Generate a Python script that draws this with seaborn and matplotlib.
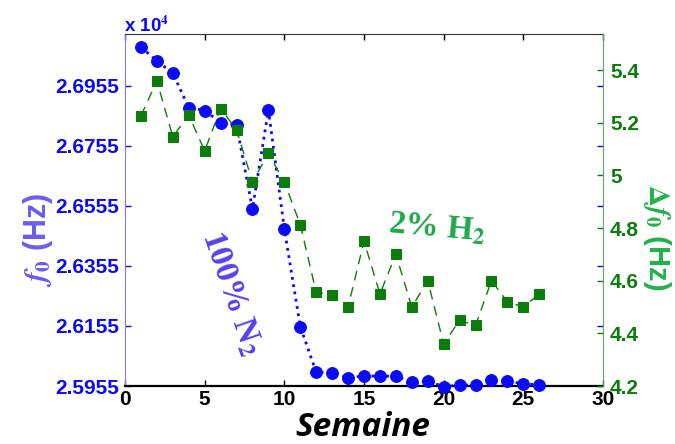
import matplotlib
matplotlib.use("Agg")
import matplotlib.pyplot as plt
import seaborn as sns
import pandas as pd
import numpy as np

# ---- data ----
semaine = list(range(1, 27))
f0_hz = [27084, 27039, 26997, 26883, 26873, 26833, 26825, 26545, 26875, 26479,
         26153, 26001, 25999, 25983, 25988, 25988, 25988, 25968, 25971, 25953,
         25958, 25958, 25975, 25972, 25962, 25959]
delta_f0 = [5.226, 5.359, 5.147, 5.229, 5.093, 5.254, 5.173, 4.975, 5.084, 4.975,
            4.813, 4.556, 4.547, 4.50, 4.75, 4.55, 4.70, 4.50, 4.60, 4.36,
            4.45, 4.43, 4.60, 4.52, 4.50, 4.55]
left_ticks = [25955, 26155, 26355, 26555, 26755, 26955]
right_ticks = [4.2, 4.4, 4.6, 4.8, 5.0, 5.2, 5.4]
right_ticklabels = ["4.2", "4.4", "4.6", "4.8", "5", "5.2", "5.4"]
x_ticks = [0, 5, 10, 15, 20, 25, 30]

df = pd.DataFrame({"semaine": semaine, "f0": f0_hz, "df0": delta_f0})

sns.set_style("white")
plt.rcParams["mathtext.fontset"] = "stix"
plt.rcParams["font.family"] = ["Liberation Sans", "DejaVu Sans"]

BLUE = "#0a0af5"
GREEN = "#0a7d0a"
LBLUE = "#6a5cf0"
LGREEN = "#22b24c"

fig = plt.figure(figsize=(6.75, 4.44), dpi=100)
ax1 = fig.add_axes([125/675, 1-386/444, (603-125)/675, (386-34)/444])
ax2 = ax1.twinx()

sns.lineplot(data=df, x="semaine", y="f0", ax=ax1, color=BLUE, linestyle=":",
             linewidth=2.0, marker="o", markersize=8.5, markeredgecolor=BLUE,
             markerfacecolor=BLUE, clip_on=False, zorder=3)
sns.lineplot(data=df, x="semaine", y="df0", ax=ax2, color=GREEN, linestyle=(0, (7, 5)),
             linewidth=1.0, marker="s", markersize=7.5, markeredgecolor=GREEN,
             markerfacecolor=GREEN, clip_on=False, zorder=3)

ax1.set_xlim(0, 30)
ax1.set_ylim(25955, 27128)
ax2.set_ylim(4.2, 5.537)

ax1.set_xticks(x_ticks)
ax1.set_xticklabels([str(t) for t in x_ticks], fontsize=15, fontweight="bold", color="black")
ax1.set_yticks(left_ticks)
ax1.set_yticklabels([f"{t/1e4:.4f}" for t in left_ticks], fontsize=15,
                    fontweight="bold", color=BLUE)
ax2.set_yticks(right_ticks)
ax2.set_yticklabels(right_ticklabels, fontsize=15, fontweight="bold", color=GREEN)

ax1.tick_params(axis="x", direction="in", top=True, bottom=True, length=4,
                width=1, colors="black", pad=3)
ax1.tick_params(axis="y", direction="in", left=True, right=True, length=4,
                width=1, colors=BLUE, pad=4)
ax2.tick_params(axis="y", direction="in", right=True, length=4, width=1,
                colors=GREEN, pad=5)
for lab in ax1.get_xticklabels():
    lab.set_color("black")

ax1.spines["left"].set_color("#7a7aff")
ax1.spines["bottom"].set_color("black")
ax1.spines["bottom"].set_linewidth(1.6)
ax1.spines["top"].set_color("#333333")
ax1.spines["right"].set_visible(False)
ax2.spines["right"].set_color("#5aa85a")
ax2.spines["left"].set_visible(False)
ax2.spines["top"].set_visible(False)
ax2.spines["bottom"].set_visible(False)

ax1.set_xlabel("")
ax1.set_ylabel("")
ax2.set_ylabel("")

fig.text(363/675, 1-427/444, "Semaine", fontsize=24, fontweight="bold",
         style="italic", family=["Open Sans", "DejaVu Sans"],
         ha="center", va="center", color="black")
fig.text(38/675, 1-240/444, r"$\mathbfit{f}_{\mathbf{0}}$ (Hz)", fontsize=22,
         fontweight="bold", rotation=90, ha="center", va="center", color=LBLUE)
fig.text(657/675, 1-237/444, r"$\mathbf{\Delta}\mathbfit{f}_{\mathbf{0}}$ (Hz)",
         fontsize=21, fontweight="bold", rotation=-90, ha="center", va="center",
         color=LGREEN)
fig.text(124/675, 1-26/444, r"x 10$^{\mathbf{4}}$", fontsize=13.5, fontweight="bold",
         ha="left", va="center", color=BLUE)

fig.text(231/675, 1-293/444, r"100% N$_{\mathbf{2}}$", fontsize=24,
         fontweight="bold", family=["Liberation Serif", "DejaVu Serif"],
         rotation=-71, ha="center", va="center", color="#5a3df0")
fig.text(437/675, 1-228/444, r"2% H$_{\mathbf{2}}$", fontsize=24,
         fontweight="bold", family=["Liberation Serif", "DejaVu Serif"],
         rotation=-5, ha="center", va="center", color="#1fa84a")

fig.savefig("out.png", dpi=100)
